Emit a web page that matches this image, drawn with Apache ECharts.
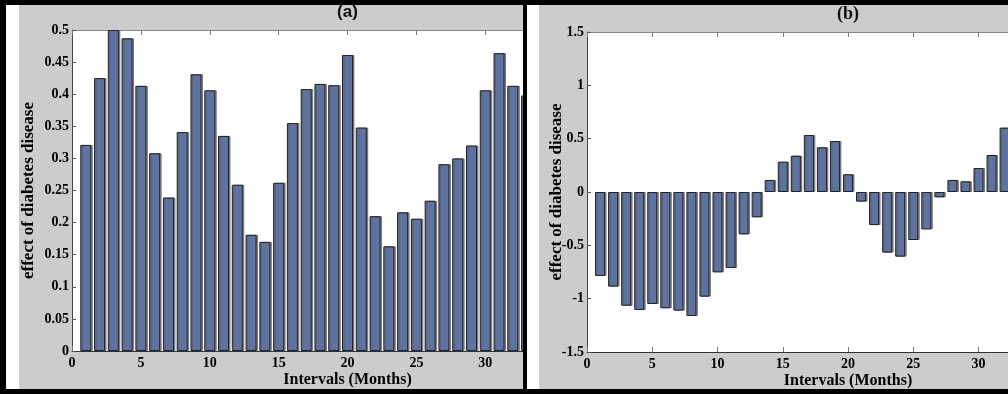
<!DOCTYPE html>
<html>
<head>
<meta charset="utf-8">
<script src="https://cdn.jsdelivr.net/npm/echarts@6/dist/echarts.min.js"></script>
<style>
  html, body { margin:0; padding:0; width:1008px; height:394px; overflow:hidden; background:#000; }
  .blk { position:absolute; }
  #whiteL { left:6px; top:5px; width:13px; height:384px; background:#fff; }
  #greyL { left:19px; top:5px; width:503.5px; height:384px; background:#cccccc; overflow:hidden; }
  #whiteR { left:527px; top:5px; width:12px; height:384px; background:#fff; }
  #greyR { left:539px; top:5px; width:469px; height:384px; background:#cccccc; overflow:hidden; }
  #chartA { position:absolute; left:0; top:0; width:657px; height:384px; }
  #chartB { position:absolute; left:0; top:0; width:618px; height:384px; }
</style>
</head>
<body>
<div class="blk" id="whiteL"></div>
<div class="blk" id="greyL"><div id="chartA"></div></div>
<div class="blk" id="whiteR"></div>
<div class="blk" id="greyR"><div id="chartB"></div></div>
<script>
// ---- data ----
const monthsA = [1,2,3,4,5,6,7,8,9,10,11,12,13,14,15,16,17,18,19,20,21,22,23,24,25,26,27,28,29,30,31,32,33];
const valuesA = [0.321,0.425,0.500,0.487,0.413,0.308,0.239,0.341,0.431,0.406,0.335,0.259,0.181,0.170,0.262,0.355,0.408,0.416,0.414,0.461,0.348,0.210,0.163,0.216,0.206,0.234,0.291,0.300,0.320,0.406,0.464,0.413,0.398];
const monthsB = [1,2,3,4,5,6,7,8,9,10,11,12,13,14,15,16,17,18,19,20,21,22,23,24,25,26,27,28,29,30,31,32];
const valuesB = [-0.787,-0.887,-1.066,-1.106,-1.050,-1.090,-1.112,-1.162,-0.981,-0.753,-0.712,-0.397,-0.237,0.113,0.284,0.340,0.534,0.419,0.478,0.166,-0.090,-0.310,-0.568,-0.606,-0.450,-0.350,-0.050,0.113,0.100,0.225,0.347,0.603];
const titleA = '(a)';
const titleB = '(b)';
const xName = 'Intervals (Months)';
const yName = 'effect of diabetes disease';

const SERIF = '"Liberation Serif", "Times New Roman", serif';
const barColor = '#5e73a0';

function buildOption(cfg) {
  const data = cfg.months.map((m, i) => [m, cfg.values[i]]);
  return {
    animation: false,
    title: {
      text: cfg.title, left: 'center', top: cfg.titleTop, padding: 0,
      textStyle: { fontFamily: cfg.titleFont, fontWeight: 'bold', fontSize: cfg.titleSize, color: '#111' }
    },
    grid: {
      left: cfg.grid.left, top: cfg.grid.top, width: cfg.grid.width, height: cfg.grid.height,
      containLabel: false, outerBoundsMode: 'none',
      show: true, backgroundColor: '#ffffff', borderWidth: 0
    },
    xAxis: [{
      type: 'value', min: 0, max: 40, interval: 5, position: 'bottom',
      name: xName, nameLocation: 'middle', nameGap: 21, nameMoveOverlap: false,
      nameTextStyle: { fontFamily: SERIF, fontWeight: 'bold', fontSize: 16, color: '#000' },
      axisLine: { show: true, onZero: false, lineStyle: { color: '#333', width: 1 } },
      axisTick: { show: true, inside: true, length: 5, lineStyle: { color: '#777' } },
      axisLabel: { margin: 5, fontFamily: SERIF, fontWeight: 'bold', fontSize: 14, color: '#000' },
      splitLine: { show: false }
    }, {
      type: 'value', min: 0, max: 40, interval: 5, position: 'top',
      axisLine: { show: true, onZero: false, lineStyle: { color: '#888', width: 1 } },
      axisTick: { show: true, inside: true, length: 5, lineStyle: { color: '#777' } },
      axisLabel: { show: false },
      splitLine: { show: false }
    }],
    yAxis: {
      type: 'value', min: cfg.yMin, max: cfg.yMax, interval: cfg.yInt,
      name: yName, nameLocation: 'middle', nameGap: cfg.yNameGap, nameRotate: 90, nameMoveOverlap: false,
      nameTextStyle: { fontFamily: SERIF, fontWeight: 'bold', fontSize: 17, color: '#000' },
      axisLine: { show: true, onZero: false, lineStyle: { color: '#444', width: 1 } },
      axisTick: { show: true, inside: true, length: 4, lineStyle: { color: '#555' } },
      axisLabel: { margin: 3, fontFamily: SERIF, fontWeight: 'bold', fontSize: 14, color: '#000' },
      splitLine: { show: false }
    },
    series: [{
      type: 'bar', data: data, barWidth: cfg.barWidth, xAxisIndex: 0,
      itemStyle: {
        color: barColor, borderColor: '#22222c', borderWidth: 1,
        shadowColor: 'rgba(90,90,90,0.7)', shadowOffsetX: 1.5, shadowOffsetY: 0, shadowBlur: 0
      }
    }]
  };
}

const chartA = echarts.init(document.getElementById('chartA'));
chartA.setOption(buildOption({
  months: monthsA, values: valuesA, title: titleA,
  titleFont: '"Liberation Sans", Arial, sans-serif', titleSize: 17, titleTop: -1,
  grid: { left: 53, top: 25, width: 551, height: 321 },
  yMin: 0, yMax: 0.5, yInt: 0.05, yNameGap: 35, barWidth: 11
}));

const chartB = echarts.init(document.getElementById('chartB'));
chartB.setOption(buildOption({
  months: monthsB, values: valuesB, title: titleB,
  titleFont: SERIF, titleSize: 18, titleTop: 0,
  grid: { left: 48, top: 27, width: 522, height: 320 },
  yMin: -1.5, yMax: 1.5, yInt: 0.5, yNameGap: 22, barWidth: 10
}));
</script>
</body>
</html>
